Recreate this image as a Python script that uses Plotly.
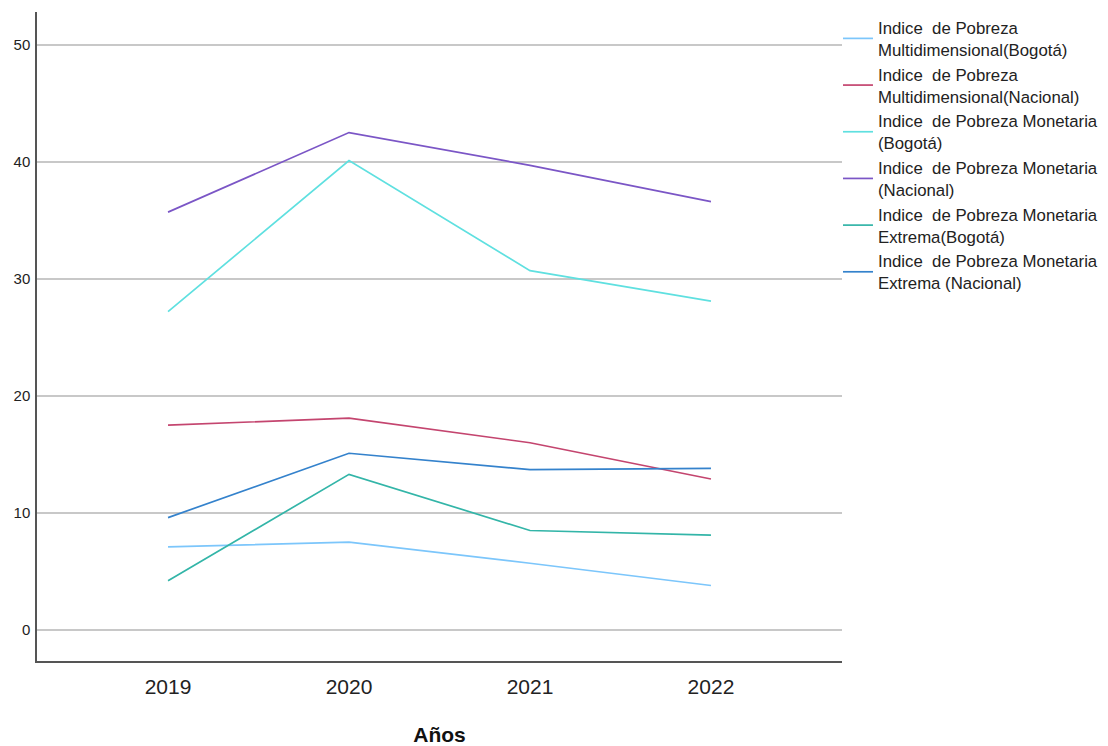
import plotly.graph_objects as go

years = ["2019", "2020", "2021", "2022"]
series_names = [
    "Indice  de Pobreza<br>Multidimensional(Bogotá)",
    "Indice  de Pobreza<br>Multidimensional(Nacional)",
    "Indice  de Pobreza Monetaria<br>(Bogotá)",
    "Indice  de Pobreza Monetaria<br>(Nacional)",
    "Indice  de Pobreza Monetaria<br>Extrema(Bogotá)",
    "Indice  de Pobreza Monetaria<br>Extrema (Nacional)",
]
ipm_bogota = [7.1, 7.5, 5.7, 3.8]
ipm_nacional = [17.5, 18.1, 16.0, 12.9]
monetaria_bogota = [27.2, 40.1, 30.7, 28.1]
monetaria_nacional = [35.7, 42.5, 39.7, 36.6]
extrema_bogota = [4.2, 13.3, 8.5, 8.1]
extrema_nacional = [9.6, 15.1, 13.7, 13.8]
colors = ["#7cc6fb", "#c4456f", "#5fe0e0", "#7b56c6", "#33b5a8", "#3482cc"]

values = [ipm_bogota, ipm_nacional, monetaria_bogota, monetaria_nacional,
          extrema_bogota, extrema_nacional]

font_family = "Liberation Sans, Arial, sans-serif"

fig = go.Figure()
for name, vals, c in zip(series_names, values, colors):
    fig.add_trace(go.Scatter(x=years, y=vals, mode="lines", name=name,
                             line=dict(color=c, width=1.7)))

fig.update_layout(
    width=1100, height=738,
    margin=dict(l=29, r=266, t=4, b=85, autoexpand=False),
    paper_bgcolor="white", plot_bgcolor="white",
    font=dict(family=font_family, color="#222222"),
    showlegend=True,
    legend=dict(x=0.995, y=1.003, xanchor="left", yanchor="top",
                font=dict(size=16.8, family=font_family, color="#222222"),
                tracegroupgap=0, itemwidth=30, traceorder="normal",
                bgcolor="rgba(0,0,0,0)"),
    xaxis=dict(type="category", range=[-0.724, 3.724],
               showline=True, linecolor="#555555", linewidth=1.5,
               showgrid=False, ticks="", zeroline=False, ticklabelstandoff=6,
               tickfont=dict(size=21, family=font_family, color="#222222"),
               title=dict(text="<b>Años</b>", font=dict(size=21, family=font_family, color="#111111"),
                          standoff=30)),
    yaxis=dict(range=[-2.65, 52.8], tickvals=[0, 10, 20, 30, 40, 50],
               showline=True, linecolor="#555555", linewidth=1.5,
               showgrid=True, gridcolor="#c8c8c8", gridwidth=1.5,
               zeroline=False, ticks="", ticklabelstandoff=2,
               tickfont=dict(size=15, family=font_family, color="#222222")),
)

fig.write_html("out.html")
